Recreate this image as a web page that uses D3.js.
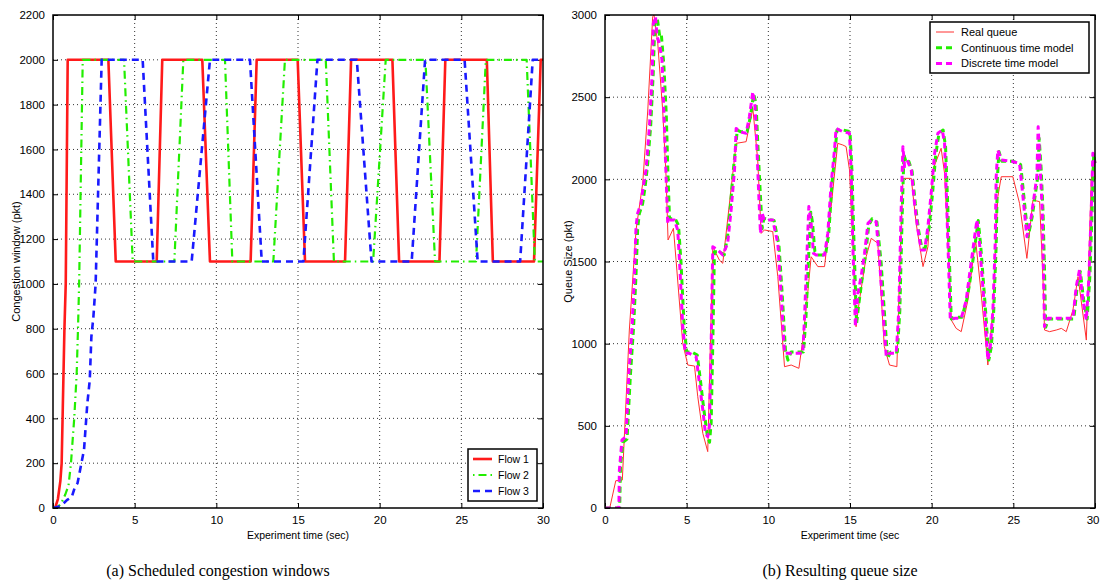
<!DOCTYPE html>
<html>
<head>
<meta charset="utf-8">
<script src="https://cdn.jsdelivr.net/npm/d3@7"></script>
<style>
  body { margin: 0; background: #fff; }
  svg text { font-family: "Liberation Sans", Arial, sans-serif; fill: #000; }
  .caption { font-family: "Liberation Serif", "Times New Roman", serif; }
</style>
</head>
<body>
<svg id="chart" width="1100" height="586"></svg>
<script>
// ---- data (a) scheduled congestion windows ----
let xTicks = [0, 5, 10, 15, 20, 25, 30];
let cwndTicks = [0, 200, 400, 600, 800, 1000, 1200, 1400, 1600, 1800, 2000, 2200];
let queueTicks = [0, 500, 1000, 1500, 2000, 2500, 3000];

let flow1Time = [0, 0.15, 0.3, 0.45, 0.53, 0.6, 0.7, 0.78, 0.9, 3.39, 3.84, 6.35, 6.69, 9.14, 9.61, 12.1, 12.47, 14.98, 15.43, 17.88, 18.25, 20.78, 21.19, 23.66, 24.02, 26.56, 26.93, 29.45, 29.86, 30];
let flow1Cwnd = [0, 5, 40, 120, 200, 450, 800, 1000, 2000, 2000, 1100, 1100, 2000, 2000, 1100, 1100, 2000, 2000, 1100, 1100, 2000, 2000, 1100, 1100, 2000, 2000, 1100, 1100, 2000, 2000];

let flow2Time = [0, 0.3, 0.5, 0.75, 0.95, 1.1, 1.3, 1.45, 1.53, 1.6, 1.82, 4.35, 4.88, 7.43, 7.98, 10.53, 10.98, 13.49, 14.2, 16.7, 17.2, 19.6, 20.37, 22.8, 23.39, 25.9, 26.5, 29.0, 29.5, 30];
let flow2Cwnd = [0, 5, 20, 60, 100, 200, 400, 600, 800, 1000, 2000, 2000, 1100, 1100, 2000, 2000, 1100, 1100, 2000, 2000, 1100, 1100, 2000, 2000, 1100, 1100, 2000, 2000, 1100, 1100];

let flow3Time = [0, 0.5, 0.85, 1.15, 1.35, 1.5, 1.7, 1.9, 2.1, 2.25, 2.35, 2.47, 2.61, 2.98, 5.49, 6.14, 8.49, 9.61, 12.06, 12.78, 15.33, 16.19, 18.6, 19.5, 21.96, 22.78, 25.2, 26.0, 28.6, 29.37, 30];
let flow3Cwnd = [0, 10, 35, 50, 95, 110, 185, 260, 465, 570, 765, 850, 1000, 2000, 2000, 1100, 1100, 2000, 2000, 1100, 1100, 2000, 2000, 1100, 1100, 2000, 2000, 1100, 1100, 2000, 2000];

// ---- data (b) resulting queue size ----
let realTime = [0, 0.29, 0.66, 1.06, 1.49, 1.9, 2.31, 2.62, 2.92, 3.0, 3.23, 3.53, 3.74, 3.86, 4.19, 4.35, 4.76, 5.07, 5.48, 5.68, 5.99, 6.29, 6.6, 7.0, 7.21, 8.03, 8.64, 9.05, 9.35, 9.56, 9.76, 10.27, 10.58, 10.99, 11.4, 11.87, 12.11, 12.41, 12.62, 13.03, 13.44, 13.74, 14.25, 14.56, 14.76, 14.97, 15.17, 15.37, 15.58, 15.99, 16.3, 16.7, 16.9, 17.1, 17.42, 17.87, 18.03, 18.24, 18.75, 19.05, 19.47, 19.77, 20.07, 20.58, 20.79, 20.99, 21.2, 21.5, 21.81, 22.22, 22.69, 23.03, 23.44, 23.75, 24.05, 24.26, 24.97, 25.38, 25.83, 26.2, 26.61, 26.81, 26.91, 27.22, 27.63, 27.94, 28.24, 28.65, 28.96, 29.47, 29.77, 29.93, 30];
let realQueue = [0, 0, 166, 170, 1083, 1692, 1976, 2422, 2990, 3000, 2828, 2422, 2016, 1631, 1702, 1509, 1002, 870, 864, 677, 454, 343, 1590, 1509, 1489, 2219, 2229, 2432, 2118, 1671, 1692, 1682, 1408, 860, 870, 850, 1022, 1306, 1529, 1469, 1469, 1732, 2219, 2209, 2199, 2057, 1611, 1103, 1266, 1529, 1641, 1611, 1306, 982, 870, 860, 1408, 2006, 2006, 1732, 1469, 1590, 2057, 2189, 2037, 1611, 1144, 1093, 1073, 1266, 1631, 1306, 870, 1205, 1894, 2016, 2016, 1854, 1519, 1874, 1864, 1408, 1083, 1073, 1083, 1093, 1073, 1205, 1408, 1022, 1996, 2158, 2000];

let contTime = [0, 0.9, 0.95, 1.1, 1.35, 1.55, 1.75, 1.9, 2.0, 2.1, 2.3, 2.45, 2.6, 2.8, 2.95, 3.05, 3.2, 3.35, 3.45, 3.6, 3.75, 3.85, 3.95, 4.1, 4.3, 4.5, 4.65, 4.85, 5.0, 5.3, 5.65, 5.85, 6.05, 6.25, 6.4, 6.5, 6.6, 6.7, 7.0, 7.3, 7.5, 7.65, 7.85, 8.1, 8.3, 8.7, 8.9, 9.1, 9.25, 9.35, 9.5, 9.62, 9.72, 9.85, 10.35, 10.65, 10.85, 11.05, 11.2, 11.4, 12.15, 12.3, 12.45, 12.6, 12.7, 12.85, 13.0, 13.5, 13.7, 13.9, 14.1, 14.2, 14.6, 15.0, 15.12, 15.25, 15.4, 15.55, 15.75, 15.95, 16.15, 16.35, 16.65, 16.9, 17.1, 17.3, 17.5, 17.9, 18.05, 18.2, 18.3, 18.45, 18.6, 18.8, 19.0, 19.2, 19.4, 19.6, 19.85, 20.05, 20.25, 20.45, 20.7, 20.85, 21.0, 21.12, 21.2, 21.45, 21.85, 22.15, 22.3, 22.6, 22.85, 23.0, 23.3, 23.5, 23.65, 23.8, 23.95, 24.02, 24.12, 24.3, 25.0, 25.45, 25.65, 25.9, 26.15, 26.35, 26.5, 26.58, 26.7, 26.82, 26.92, 26.98, 27.15, 28.7, 28.9, 29.1, 29.3, 29.52, 29.68, 29.82, 29.92, 30];
let contQueue = [0, 0, 260, 400, 420, 800, 1100, 1420, 1700, 1790, 1850, 1950, 2080, 2330, 2640, 2950, 2980, 2870, 2880, 2700, 2400, 2050, 1760, 1760, 1760, 1720, 1500, 1100, 950, 950, 930, 770, 600, 450, 400, 520, 1000, 1560, 1560, 1540, 1650, 1800, 2050, 2300, 2290, 2290, 2380, 2520, 2460, 2230, 1930, 1700, 1760, 1760, 1750, 1600, 1300, 960, 900, 950, 950, 1150, 1500, 1800, 1740, 1560, 1540, 1540, 1670, 1980, 2180, 2300, 2300, 2290, 2050, 1600, 1120, 1250, 1400, 1540, 1720, 1760, 1740, 1500, 1200, 910, 950, 950, 1200, 1800, 2150, 2100, 2110, 2050, 1850, 1690, 1580, 1580, 1710, 1910, 2150, 2280, 2300, 2200, 1800, 1400, 1150, 1160, 1160, 1270, 1350, 1560, 1750, 1600, 1200, 900, 980, 1200, 1600, 2000, 2170, 2110, 2110, 2090, 1890, 1650, 1770, 1910, 2020, 2250, 2070, 1800, 1400, 1100, 1150, 1150, 1340, 1440, 1270, 1150, 1400, 1800, 2150, 2100];

let discTime = [0, 0.85, 0.88, 1.04, 1.29, 1.45, 1.66, 1.8, 1.9, 2.0, 2.21, 2.31, 2.51, 2.72, 2.88, 2.96, 3.09, 3.19, 3.33, 3.49, 3.6, 3.74, 3.84, 3.94, 4.25, 4.45, 4.56, 4.76, 4.92, 5.17, 5.58, 5.78, 5.99, 6.15, 6.29, 6.39, 6.5, 6.6, 6.91, 7.21, 7.51, 7.72, 7.93, 8.03, 8.23, 8.64, 8.84, 9.05, 9.19, 9.29, 9.41, 9.52, 9.62, 9.76, 10.27, 10.58, 10.78, 10.99, 11.3, 12.11, 12.21, 12.35, 12.48, 12.62, 12.76, 12.92, 13.44, 13.64, 13.85, 14.05, 14.15, 14.56, 14.97, 15.07, 15.17, 15.33, 15.48, 15.68, 15.89, 16.1, 16.3, 16.6, 16.81, 17.01, 17.22, 17.42, 17.83, 17.99, 18.13, 18.24, 18.34, 18.54, 18.75, 18.95, 19.16, 19.36, 19.57, 19.77, 19.97, 20.18, 20.38, 20.65, 20.79, 20.93, 21.06, 21.14, 21.4, 21.81, 22.12, 22.22, 22.52, 22.77, 22.93, 23.24, 23.44, 23.59, 23.75, 23.89, 23.95, 24.05, 24.26, 24.97, 25.38, 25.59, 25.83, 26.1, 26.3, 26.44, 26.52, 26.64, 26.77, 26.85, 26.91, 27.12, 28.65, 28.85, 29.05, 29.26, 29.47, 29.63, 29.77, 29.87, 30];
let discQueue = [0, 0, 231, 414, 434, 799, 1103, 1408, 1712, 1793, 1854, 1935, 2057, 2320, 2625, 2949, 2990, 2868, 2828, 2726, 2422, 2016, 1732, 1753, 1753, 1692, 1509, 1103, 941, 941, 921, 759, 596, 454, 434, 495, 1002, 1590, 1570, 1540, 1611, 1813, 2057, 2310, 2290, 2280, 2381, 2533, 2442, 2219, 1915, 1671, 1793, 1753, 1753, 1611, 1306, 941, 941, 941, 1144, 1509, 1834, 1732, 1550, 1540, 1540, 1671, 1976, 2178, 2310, 2290, 2280, 2057, 1611, 1103, 1306, 1408, 1550, 1732, 1753, 1742, 1509, 1205, 921, 941, 941, 1205, 1813, 2199, 2077, 2108, 2057, 1854, 1692, 1570, 1570, 1712, 1915, 2158, 2280, 2300, 2219, 1813, 1408, 1144, 1154, 1154, 1266, 1347, 1570, 1753, 1611, 1205, 901, 982, 1205, 1611, 2016, 2178, 2118, 2108, 2097, 1894, 1651, 1773, 1915, 2016, 2320, 2077, 1813, 1408, 1103, 1154, 1154, 1347, 1448, 1266, 1144, 1408, 1813, 2158, 2097];

// zip time and value arrays into points for d3.line
function zip(ts, vs) {
  return ts.map((t, i) => ({t: t, v: vs[i]}));
}

const svg = d3.select("#chart");

// draws one MATLAB-style panel: box, inward ticks, dotted grid, tick labels
function drawPanel(p) {
  let x = d3.scaleLinear().domain([0, 30]).range([p.left, p.right]);
  let y = d3.scaleLinear().domain([0, p.yMax]).range([p.bottom, p.top]);
  let g = svg.append("g");

  // dotted grid
  g.append("g").selectAll("line")
    .data(xTicks.filter(d => d > 0 && d < 30))
    .enter().append("line")
      .attr("x1", d => x(d)).attr("x2", d => x(d))
      .attr("y1", p.top).attr("y2", p.bottom)
      .attr("stroke", "#333").attr("stroke-width", 1)
      .attr("stroke-dasharray", "1,3");
  g.append("g").selectAll("line")
    .data(p.yTicks.filter(d => d > 0 && d < p.yMax))
    .enter().append("line")
      .attr("x1", p.left).attr("x2", p.right)
      .attr("y1", d => y(d)).attr("y2", d => y(d))
      .attr("stroke", "#333").attr("stroke-width", 1)
      .attr("stroke-dasharray", "1,3");

  // inward ticks on all four sides, labels on bottom and left
  let tickLen = 5;
  let fmt = d3.format("d");
  let bottomAxis = d3.axisBottom(x).tickValues(xTicks).tickFormat(fmt).tickSizeInner(-tickLen).tickSizeOuter(0).tickPadding(8);
  let leftAxis = d3.axisLeft(y).tickValues(p.yTicks).tickFormat(fmt).tickSizeInner(-tickLen).tickSizeOuter(0).tickPadding(8);
  let topAxis = d3.axisTop(x).tickValues(xTicks).tickSizeInner(-tickLen).tickSizeOuter(0).tickFormat("");
  let rightAxis = d3.axisRight(y).tickValues(p.yTicks).tickSizeInner(-tickLen).tickSizeOuter(0).tickFormat("");

  let bottomG = g.append("g").attr("transform", "translate(0," + p.bottom + ")").call(bottomAxis);
  let axes = [
    bottomG,
    g.append("g").attr("transform", "translate(" + p.left + ",0)").call(leftAxis),
    g.append("g").attr("transform", "translate(0," + p.top + ")").call(topAxis),
    g.append("g").attr("transform", "translate(" + p.right + ",0)").call(rightAxis)
  ];
  for (const a of axes) {
    a.select(".domain").remove();
    a.selectAll("line").attr("stroke", "#000").attr("stroke-width", 1);
    a.selectAll("text").style("font-size", "11.5px").attr("fill", "#000");
  }
  // the last x label sits at the page edge on panel (b): keep it inside
  if (p.right > 1090) {
    bottomG.selectAll(".tick").filter(d => d === 30).select("text")
      .attr("text-anchor", "end").attr("x", 1099 - p.right);
  }

  // plot lines
  let line = d3.line().x(d => x(d.t)).y(d => y(d.v));
  let clipId = "clip" + p.name;
  svg.append("clipPath").attr("id", clipId).append("rect")
    .attr("x", p.left).attr("y", p.top - 2)
    .attr("width", p.right - p.left + 2).attr("height", p.bottom - p.top + 2);
  let lines = g.append("g").attr("clip-path", "url(#" + clipId + ")");
  for (const s of p.series) {
    lines.append("path")
      .datum(s.data)
      .attr("d", line)
      .attr("fill", "none")
      .attr("stroke", s.color)
      .attr("stroke-width", s.width)
      .attr("stroke-dasharray", s.dash)
      .attr("stroke-linejoin", "round");
  }

  // box
  g.append("rect")
    .attr("x", p.left).attr("y", p.top)
    .attr("width", p.right - p.left).attr("height", p.bottom - p.top)
    .attr("fill", "none").attr("stroke", "#000").attr("stroke-width", 1.5);

  // axis labels
  g.append("text")
    .attr("x", p.xLabelX).attr("y", 539)
    .attr("text-anchor", "middle")
    .style("font-size", "10.5px")
    .text(p.xLabel);
  g.append("text")
    .attr("transform", "translate(" + p.yLabelX + "," + ((p.top + p.bottom) / 2) + ") rotate(-90)")
    .attr("text-anchor", "middle")
    .style("font-size", "11px")
    .text(p.yLabel);

  // legend
  let lg = p.legend;
  let leg = g.append("g");
  leg.append("rect")
    .attr("x", lg.x).attr("y", lg.y).attr("width", lg.w).attr("height", lg.h)
    .attr("fill", "#fff").attr("stroke", "#000").attr("stroke-width", 1.5);
  p.series.forEach((s, i) => {
    let ly = lg.y + lg.first + i * lg.step;
    leg.append("line")
      .attr("x1", lg.x + lg.sx0).attr("x2", lg.x + lg.sx1)
      .attr("y1", ly).attr("y2", ly)
      .attr("stroke", s.color).attr("stroke-width", s.width)
      .attr("stroke-dasharray", s.legendDash || s.dash);
    leg.append("text")
      .attr("x", lg.x + lg.tx).attr("y", ly + 4)
      .style("font-size", lg.font)
      .text(s.label);
  });

  // caption
  svg.append("text")
    .attr("class", "caption")
    .attr("x", p.captionX).attr("y", 576)
    .attr("text-anchor", "middle")
    .style("font-size", "16px")
    .text(p.caption);
}

drawPanel({
  name: "a",
  left: 53, right: 543, top: 15, bottom: 508,
  yMax: 2200, yTicks: cwndTicks,
  xLabel: "Experiment time (sec)", xLabelX: 298,
  yLabel: "Congestion window (pkt)", yLabelX: 20,
  caption: "(a) Scheduled congestion windows", captionX: 218,
  series: [
    {label: "Flow 1", data: zip(flow1Time, flow1Cwnd), color: "#ff1a1a", width: 2.6, dash: null},
    {label: "Flow 2", data: zip(flow2Time, flow2Cwnd), color: "#22ee00", width: 2.2, dash: "8,4,1.5,4", legendDash: "1.5,4,8,4"},
    {label: "Flow 3", data: zip(flow3Time, flow3Cwnd), color: "#1a1aff", width: 2.6, dash: "7,5"}
  ],
  legend: {x: 468, y: 449, w: 69, h: 52, first: 10, step: 16, sx0: 5, sx1: 24, tx: 30, font: "10.5px"}
});

drawPanel({
  name: "b",
  left: 605, right: 1095, top: 15, bottom: 508,
  yMax: 3000, yTicks: queueTicks,
  xLabel: "Experiment time (sec", xLabelX: 850,
  yLabel: "Queue Size (pkt)", yLabelX: 572,
  caption: "(b) Resulting queue size", captionX: 840,
  series: [
    {label: "Real queue", data: zip(realTime, realQueue), color: "#ff3030", width: 1, dash: null},
    {label: "Continuous time model", data: zip(contTime, contQueue), color: "#22ee00", width: 3, dash: "6,4"},
    {label: "Discrete time model", data: zip(discTime, discQueue), color: "#ff00ff", width: 3, dash: "6,4"}
  ],
  legend: {x: 930, y: 22, w: 159, h: 51, first: 10, step: 15.7, sx0: 6, sx1: 24, tx: 31, font: "11px"}
});
</script>
</body>
</html>
